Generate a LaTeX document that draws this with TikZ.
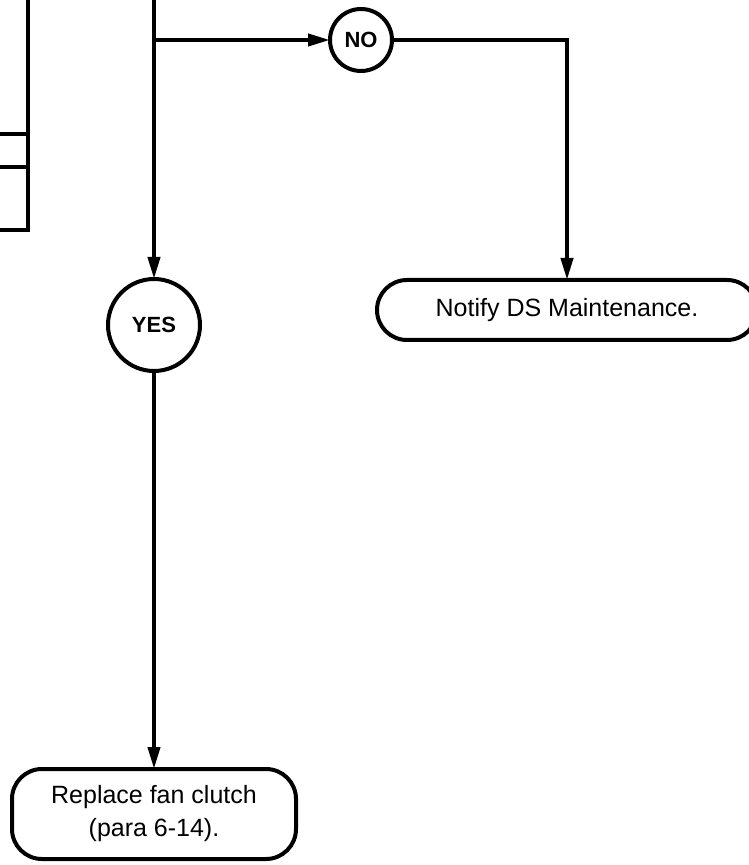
\documentclass[tikz,border=0pt]{standalone}
\usepackage{fontspec}
\setmainfont{Liberation Sans}
\usepackage{tikz}
\usetikzlibrary{arrows.meta,positioning,shapes.geometric,calc}

\begin{document}
\begin{tikzpicture}[x=0.5pt,y=-0.5pt,>={Triangle[length=11pt,width=6pt]},
line width=2pt,
act/.style={draw,rounded corners=15pt,align=center,inner sep=0pt,outer sep=0pt,
 font=\fontsize{12.5}{16.5}\selectfont},
ans/.style={draw,circle,inner sep=0pt,outer sep=0pt,font=\fontsize{11}{13}\selectfont\bfseries}]
\useasboundingbox (0,0) rectangle (748,865);
% part of the box on the left
\draw (0,230)--(28,230)--(28,-10);
\draw (0,134)--(28,134);
\draw (0,167)--(28,167);
\coordinate (top) at (154,-10);
\coordinate (split) at (154,40);
\node[ans,minimum size=31pt] (no) at (361,40) {NO};
\node[ans,minimum size=46pt] (yes) at (154,325) {YES};
\node[act,minimum width=190pt,minimum height=30pt] (notify) at (567,310)
 {Notify DS Maintenance.};
\node[act,minimum width=142pt,minimum height=45pt] (replace) at (154,814)
 {Replace fan clutch\\(para 6-14).};
\draw[->] (top)--(yes);
\draw[->] (split)--(no);
\draw[->] (no) -| (notify);
\draw[->] (yes)--(replace);
\end{tikzpicture}
\end{document}
